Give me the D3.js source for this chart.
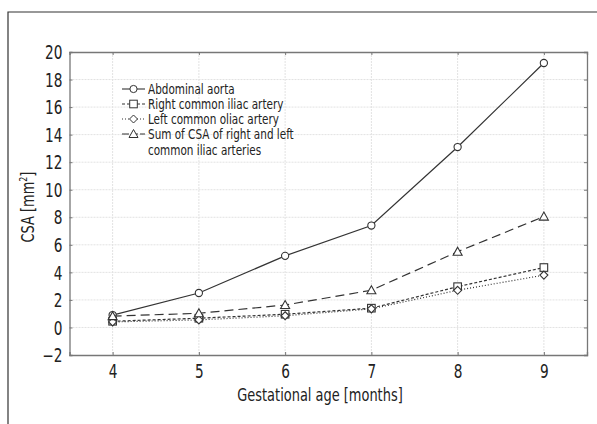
<!DOCTYPE html>
<html>
<head>
<script src="https://d3js.org/d3.v7.min.js"></script>
<style>
  body { margin: 0; background: #fff; }
  text { font-family: "DejaVu Sans", sans-serif; font-stretch: condensed; fill: #222; }
</style>
</head>
<body>
<svg id="chart" width="597" height="424"></svg>
<script>
// data
months = [4, 5, 6, 7, 8, 9];
aorta = [0.9, 2.5, 5.2, 7.4, 13.1, 19.2];
rightIliac = [0.45, 0.67, 0.96, 1.4, 2.96, 4.35];
leftIliac = [0.4, 0.55, 0.85, 1.35, 2.7, 3.8];
sumIliac = [0.82, 1.03, 1.63, 2.7, 5.5, 8.05];
yTicks = [-2, 0, 2, 4, 6, 8, 10, 12, 14, 16, 18, 20];
legendLabels = ["Abdominal aorta", "Right common iliac artery", "Left common oliac artery",
                "Sum of CSA of right and left", "common iliac arteries"];

series = [
    {name: legendLabels[0], values: aorta, dash: null, marker: "circle"},
    {name: legendLabels[1], values: rightIliac, dash: "3,2", marker: "square"},
    {name: legendLabels[2], values: leftIliac, dash: "1,2", marker: "diamond"},
    {name: legendLabels[3], values: sumIliac, dash: "9,5", marker: "triangle"}
];

svg = d3.select("#chart");
var pLeft = 69.5, pRight = 587, pTop = 52, pBottom = 355;

x = d3.scaleLinear([3.5, 9.5], [pLeft, pRight]);
y = d3.scaleLinear([-2, 20], [pBottom, pTop]);

// outer frame (only left & top visible)
svg.append("path").attr("d", "M8,424V12H597").attr("fill", "none").attr("stroke", "#333").attr("stroke-width", 1.2);

// grid
svg.append("g").selectAll("line").data(yTicks.slice(1, -1)).join("line")
    .attr("x1", pLeft).attr("x2", pRight).attr("y1", d => y(d)).attr("y2", d => y(d))
    .attr("stroke", "#e2e2e2").attr("stroke-dasharray", "2,1");
svg.append("g").selectAll("line").data(months).join("line")
    .attr("y1", pTop).attr("y2", pBottom).attr("x1", d => x(d)).attr("x2", d => x(d))
    .attr("stroke", "#e2e2e2").attr("stroke-dasharray", "2,1");

// axes (ticks pointing inside)
axL = svg.append("g").attr("transform", `translate(${pLeft},0)`)
    .call(d3.axisLeft(y).tickValues(yTicks).tickSize(-3).tickPadding(7).tickFormat(d => d < 0 ? "\u2212" + (-d) : d));
axR = svg.append("g").attr("transform", `translate(${pRight},0)`)
    .call(d3.axisRight(y).tickValues(yTicks).tickSize(-3).tickFormat(""));
axB = svg.append("g").attr("transform", `translate(0,${pBottom})`)
    .call(d3.axisBottom(x).tickValues(months).tickSize(-3).tickPadding(10).tickFormat(d3.format("d")));
axT = svg.append("g").attr("transform", `translate(0,${pTop})`)
    .call(d3.axisTop(x).tickValues(months).tickSize(-3).tickFormat(""));
[axL, axR, axB, axT].forEach(a => {
    a.select(".domain").attr("stroke", "#777").attr("stroke-width", 1.3);
    a.selectAll(".tick line").attr("stroke", "#777");
    a.selectAll("text").style("font-size", "19px").attr("fill", "#222").attr("font-family", null);
});
axL.selectAll("text").attr("dy", "0.35em");

// axis titles
svg.append("text").attr("x", 320).attr("y", 401).attr("text-anchor", "middle")
    .style("font-size", "18px").text("Gestational age [months]");
yl = svg.append("text").attr("transform", "translate(34,207) rotate(-90) scale(0.8,1)").attr("text-anchor", "middle")
    .style("font-size", "18px");
yl.append("tspan").text("CSA [mm");
yl.append("tspan").text("2").attr("dy", -7).style("font-size", "11px");
yl.append("tspan").text("]").attr("dy", 7);

function drawMarker(g, type, cx, cy) {
    if (type == "circle") g.append("circle").attr("cx", cx).attr("cy", cy).attr("r", 3.6);
    else if (type == "square") g.append("rect").attr("x", cx - 3.8).attr("y", cy - 3.8).attr("width", 7.6).attr("height", 7.6);
    else if (type == "diamond") g.append("path").attr("d", `M${cx},${cy - 4}L${cx + 4},${cy}L${cx},${cy + 4}L${cx - 4},${cy}Z`);
    else g.append("path").attr("d", `M${cx},${cy - 4.5}L${cx + 4.5},${cy + 3.5}L${cx - 4.5},${cy + 3.5}Z`);
}

line = d3.line().x((d, i) => x(months[i])).y(d => y(d));
series.forEach(s => {
    g = svg.append("g");
    g.append("path").attr("d", line(s.values)).attr("fill", "none").attr("stroke", "#333")
        .attr("stroke-width", 1.2).attr("stroke-dasharray", s.dash);
    mg = g.append("g").attr("fill", "#fff").attr("stroke", "#333").attr("stroke-width", 1.1);
    s.values.forEach((v, i) => drawMarker(mg, s.marker, x(months[i]), y(v)));
});

// legend
legendY = [89, 104, 119, 134];
series.forEach((s, i) => {
    g = svg.append("g");
    g.append("line").attr("x1", 122).attr("x2", 145).attr("y1", legendY[i]).attr("y2", legendY[i])
        .attr("stroke", "#333").attr("stroke-width", 1.1).attr("stroke-dasharray", s.dash ? (i == 3 ? "7,2" : s.dash) : null);
    mg = g.append("g").attr("fill", "#fff").attr("stroke", "#333").attr("stroke-width", 1);
    drawMarker(mg, s.marker, 133.5, legendY[i]);
    g.append("text").attr("x", 148).attr("y", legendY[i]).attr("dy", "0.35em").style("font-size", "14.5px").text(s.name);
});
svg.append("text").attr("x", 148).attr("y", 150).attr("dy", "0.35em").style("font-size", "14.5px").text(legendLabels[4]);

// the original uses a condensed face: squeeze every plain text horizontally
svg.selectAll("text").each(function() {
    if (this.querySelector("tspan")) return;
    len = this.getComputedTextLength();
    if (len > 0) d3.select(this).attr("textLength", len * 0.8).attr("lengthAdjust", "spacingAndGlyphs");
});
</script>
</body>
</html>
